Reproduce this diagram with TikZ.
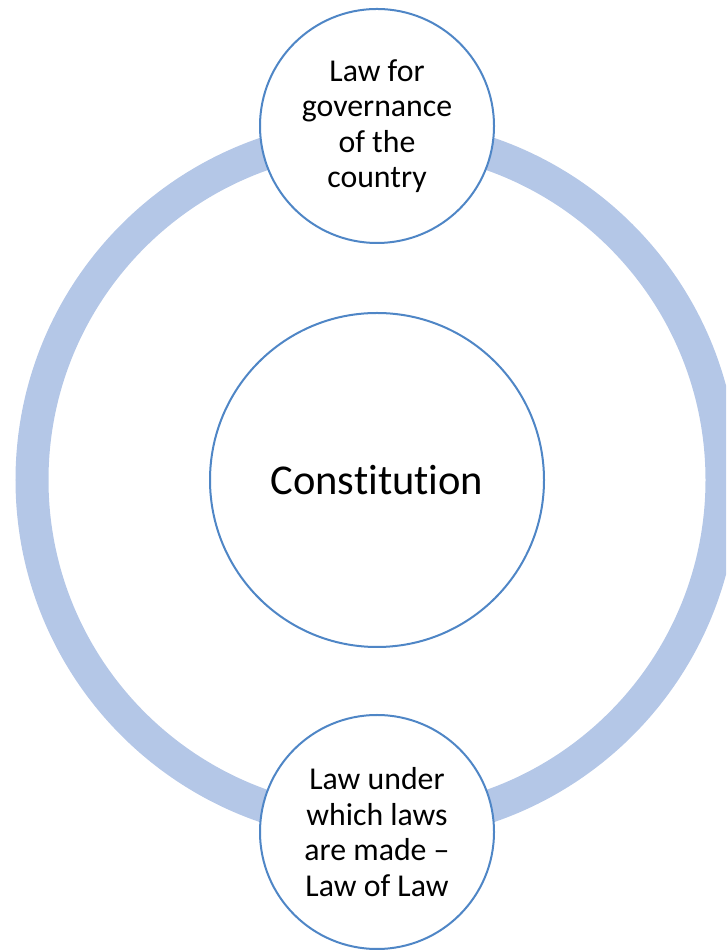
\documentclass[tikz,border=0pt]{standalone}
\usepackage{fontspec}
\setmainfont{Carlito}[Ligatures={NoCommon}]
\usepackage{xcolor}
\usetikzlibrary{positioning}
\definecolor{ringblue}{HTML}{B4C7E7}
\definecolor{lineblue}{HTML}{4F86C6}

\begin{document}
\begin{tikzpicture}[x=1pt, y=1pt, node distance=354pt,
    bubble/.style={circle, draw=lineblue, fill=white, line width=2pt, align=center, inner sep=0pt},
    small/.style={bubble, minimum size=234pt, font=\fontsize{31.8}{35.5}\selectfont}]
    \useasboundingbox (0,0) rectangle (726,950);
    \clip (0,0) rectangle (726,950);
    % Ring
    \draw[ringblue, line width=33pt] (377,470) circle (345);
    % Nodes
    \node (const) [bubble, minimum size=334pt, font=\fontsize{42.5}{50}\selectfont] at (377,470) {Constitution};
    \node (govern) [small, above of=const] {Law for\\governance\\of the\\country};
    \node (lawoflaw) [small, below of=const, node distance=352pt] {Law under\\which laws\\are made --\\Law of Law};
\end{tikzpicture}
\end{document}
